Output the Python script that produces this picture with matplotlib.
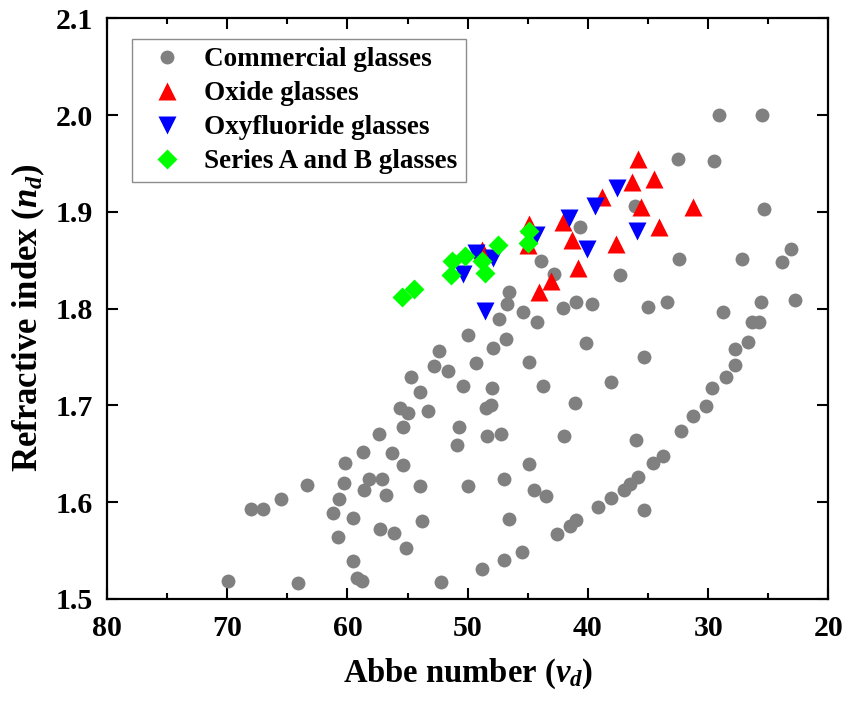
import matplotlib
matplotlib.use("Agg")
import matplotlib.pyplot as plt
from matplotlib.ticker import MultipleLocator, FormatStrFormatter

plt.rcParams['font.family'] = ['Liberation Serif', 'DejaVu Serif']
plt.rcParams['font.weight'] = 'bold'
plt.rcParams['mathtext.fontset'] = 'custom'
plt.rcParams['mathtext.rm'] = 'Liberation Serif:bold'
plt.rcParams['mathtext.it'] = 'Liberation Serif:italic:bold'
plt.rcParams['mathtext.bf'] = 'Liberation Serif:bold'

# commercial glasses: Abbe number, refractive index
commercial_v = [69.9, 64.1, 68.0, 67.0, 65.5, 63.4, 60.2, 60.3, 60.7, 61.2,
                60.8, 59.5, 59.5, 59.2, 58.8, 58.7, 57.4, 58.2, 57.1, 58.6,
                56.8, 57.3, 56.1, 56.3, 55.4, 55.1, 53.8, 54.0, 55.4, 55.6,
                55.0, 53.3, 54.0, 54.7, 52.2, 50.7, 50.9, 50.4, 50.0, 52.4,
                52.8, 51.6, 50.0, 32.5, 29.5, 25.4, 36.1, 40.7, 43.9, 42.8,
                37.3, 32.4, 27.2, 23.1, 23.9, 46.6, 46.7, 47.4, 45.4, 44.2,
                42.1, 41.0, 39.7, 35.0, 33.4, 28.8, 25.6, 22.8, 26.4, 25.8,
                26.7, 27.8, 47.9, 46.8, 40.2, 35.3, 49.3, 44.9, 48.0, 43.7,
                38.1, 48.5, 48.1, 41.1, 48.4, 47.2, 42.0, 36.0, 44.9, 47.0,
                44.5, 43.5, 46.6, 48.8, 47.0, 45.5, 42.6, 41.5, 41.0, 39.2,
                38.1, 37.0, 36.5, 35.8, 35.3, 34.6, 33.8, 32.3, 31.3, 30.2,
                29.7, 28.5, 27.8, 29.1, 25.5]
commercial_n = [1.518, 1.516, 1.593, 1.593, 1.603, 1.618, 1.640, 1.620, 1.603, 1.589,
                1.564, 1.583, 1.539, 1.522, 1.518, 1.652, 1.670, 1.624, 1.624, 1.612,
                1.607, 1.572, 1.568, 1.651, 1.638, 1.553, 1.580, 1.617, 1.678, 1.697,
                1.692, 1.694, 1.714, 1.729, 1.517, 1.678, 1.659, 1.720, 1.617, 1.756,
                1.741, 1.735, 1.773, 1.955, 1.952, 1.903, 1.906, 1.884, 1.849, 1.836,
                1.835, 1.851, 1.851, 1.862, 1.848, 1.817, 1.805, 1.789, 1.796, 1.786,
                1.801, 1.807, 1.805, 1.802, 1.807, 1.796, 1.807, 1.809, 1.786, 1.786,
                1.765, 1.758, 1.759, 1.768, 1.764, 1.750, 1.744, 1.745, 1.718, 1.720,
                1.724, 1.697, 1.700, 1.702, 1.668, 1.670, 1.668, 1.664, 1.639, 1.624,
                1.612, 1.606, 1.582, 1.531, 1.540, 1.548, 1.567, 1.575, 1.581, 1.595,
                1.604, 1.612, 1.619, 1.626, 1.592, 1.640, 1.648, 1.673, 1.689, 1.699,
                1.718, 1.729, 1.742, 2.000, 2.000]

oxide_v = [35.8, 36.3, 34.5, 38.8, 35.6, 31.3, 42.1, 34.1, 41.3, 44.9,
           45.0, 37.7, 40.8, 43.1, 44.1, 48.8]
oxide_n = [1.955, 1.931, 1.934, 1.915, 1.905, 1.905, 1.889, 1.884, 1.871, 1.887,
           1.866, 1.867, 1.842, 1.828, 1.817, 1.861]

oxyfluoride_v = [37.6, 39.4, 41.6, 35.9, 40.1, 44.3, 48.6, 50.4, 49.3, 47.9]
oxyfluoride_n = [1.925, 1.906, 1.894, 1.880, 1.862, 1.876, 1.797, 1.836, 1.857, 1.852]

series_ab_v = [55.5, 54.5, 51.4, 51.3, 50.2, 48.8, 48.6, 47.5, 44.9, 45.0]
series_ab_n = [1.812, 1.820, 1.835, 1.849, 1.854, 1.849, 1.837, 1.866, 1.880, 1.868]

fig, ax = plt.subplots(figsize=(8.48, 7.02), dpi=100)
fig.subplots_adjust(left=0.126, right=0.977, bottom=0.147, top=0.974)

ax.plot(commercial_v, commercial_n, 'o', color='#808080', ms=10, mec='none',
        label='Commercial glasses')
ax.plot(oxide_v, oxide_n, '^', color='#ff0000', ms=13, mec='none',
        label='Oxide glasses')
ax.plot(oxyfluoride_v, oxyfluoride_n, 'v', color='#0000ff', ms=13, mec='none',
        label='Oxyfluoride glasses')
ax.plot(series_ab_v, series_ab_n, 'D', color='#00ff00', ms=10, mec='none',
        label='Series A and B glasses')

ax.set_xlim(80, 20)
ax.set_ylim(1.5, 2.1)
ax.xaxis.set_major_locator(MultipleLocator(10))
ax.xaxis.set_minor_locator(MultipleLocator(5))
ax.yaxis.set_major_locator(MultipleLocator(0.1))
ax.yaxis.set_major_formatter(FormatStrFormatter('%.1f'))

ax.tick_params(which='both', direction='in', top=True, right=True,
               labelsize=21.5, width=1.5)
ax.tick_params(which='major', length=8)
ax.tick_params(which='minor', length=4)
ax.tick_params(axis='x', which='major', pad=12)
ax.tick_params(axis='y', which='major', pad=10)
for s in ax.spines.values():
    s.set_linewidth(1.6)

ax.set_xlabel(r'Abbe number ($\mathit{v}_{\mathit{d}}$)', fontsize=23.5,
              fontweight='bold', labelpad=10)
ax.set_ylabel(r'Refractive index ($\mathit{n}_{\mathit{d}}$)', fontsize=25,
              fontweight='bold', labelpad=6)
ax.yaxis.label.set_y(0.485)

leg = ax.legend(loc='upper left', bbox_to_anchor=(0.035, 0.964),
                borderaxespad=0, fontsize=19.5, frameon=True, fancybox=False,
                edgecolor='#707070', labelspacing=0.33, handletextpad=0.37,
                borderpad=0.3, handlelength=2.0)
leg.get_frame().set_linewidth(1.0)

fig.savefig('out.png', dpi=100)
